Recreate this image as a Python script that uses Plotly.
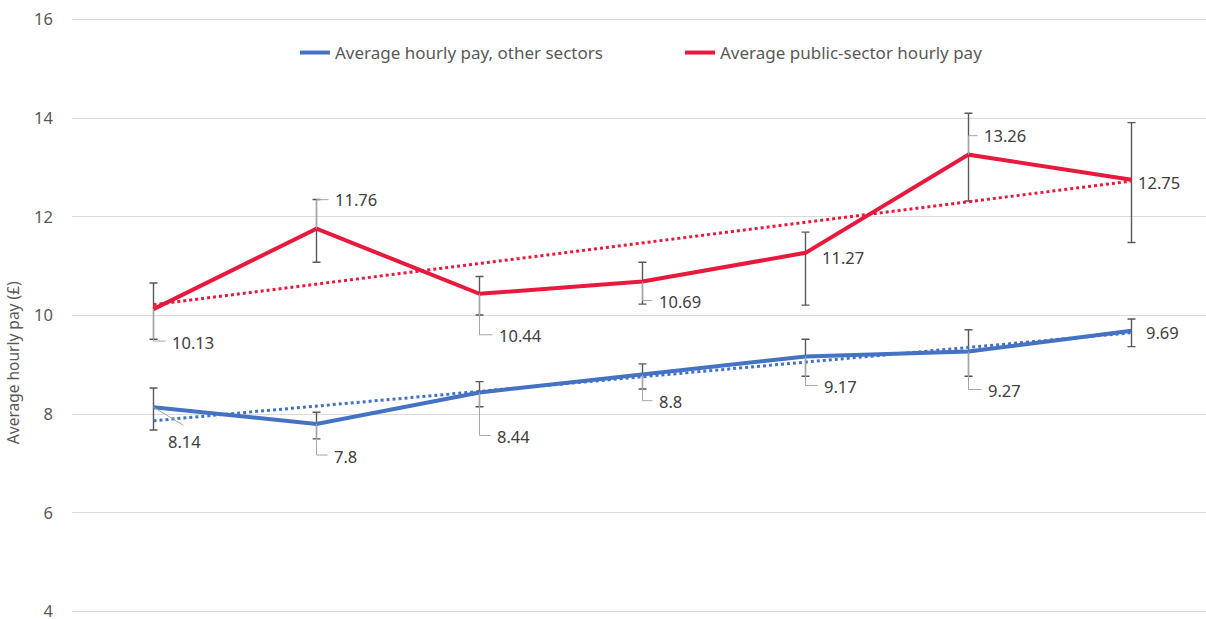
import numpy as np
import plotly.graph_objects as go

# ---- data ----
periods = [0, 1, 2, 3, 4, 5, 6]
other_pay = [8.14, 7.8, 8.44, 8.8, 9.17, 9.27, 9.69]
other_err_plus = [0.39, 0.24, 0.22, 0.22, 0.35, 0.44, 0.24]
other_err_minus = [0.46, 0.30, 0.29, 0.29, 0.40, 0.50, 0.32]
public_pay = [10.13, 11.76, 10.44, 10.69, 11.27, 13.26, 12.75]
public_err_plus = [0.53, 0.59, 0.35, 0.39, 0.42, 0.84, 1.16]
public_err_minus = [0.61, 0.68, 0.43, 0.46, 1.06, 0.94, 1.27]
y_ticks = [4, 6, 8, 10, 12, 14, 16]

# ---- style ----
BLUE = "#4472c4"
RED = "#e8193c"
FONT = "Noto Sans, Open Sans, sans-serif"
LABEL_C = "#404040"
LEADER_C = "#a6a6a6"

# label offsets in pixels (dx right, dy down) and leader styles
other_lbl = [(13, 34, "diag"), (16, 32, "elbow"), (16, 44, "elbow"), (15, 27, "elbow"),
             (17, 30, "elbow"), (18, 39, "elbow"), (13, 2, None)]
public_lbl = [(17, 33, "elbow"), (17, -29, "elbow"), (18, 42, "elbow"), (15, 20, "elbow"),
              (15, 5, None), (14, -19, "elbow"), (5, 3, None)]

fig = go.Figure()

def add_series(name, vals, ep, em, color):
    fig.add_trace(go.Scatter(
        x=periods, y=vals, mode="lines", name=name,
        line=dict(color=color, width=4),
        error_y=dict(type="data", symmetric=False, array=ep, arrayminus=em,
                     color="#595959", thickness=1.4, width=4),
    ))

add_series("Average hourly pay, other sectors", other_pay, other_err_plus, other_err_minus, BLUE)
add_series("Average public-sector hourly pay", public_pay, public_err_plus, public_err_minus, RED)

# linear trendlines (regression of the series)
for vals, color in [(other_pay, BLUE), (public_pay, RED)]:
    slope, icpt = np.polyfit(periods, vals, 1)
    fig.add_trace(go.Scatter(
        x=[periods[0], periods[-1]],
        y=[icpt + slope * periods[0], icpt + slope * periods[-1]],
        mode="lines", showlegend=False, hoverinfo="skip",
        line=dict(color=color, width=3, dash="3px,3px"),
    ))

shapes = []
annotations = []
for vals, lbls in [(other_pay, other_lbl), (public_pay, public_lbl)]:
    for xi, v, (dx, dy, kind) in zip(periods, vals, lbls):
        annotations.append(dict(
            x=xi, y=v, xref="x", yref="y", text=str(v), showarrow=False,
            xanchor="left", yanchor="middle", xshift=dx - 1, yshift=-dy,
            font=dict(family=FONT, size=16.5, color=LABEL_C),
        ))
        if kind == "elbow":
            ey = dy - 1 if dy > 0 else dy
            path = f"M0,0 L0,{-ey} L{dx - 5},{-ey}"
        elif kind == "diag":
            path = f"M0,0 L{dx + 17},{-(dy - 16)}"
        else:
            continue
        shapes.append(dict(
            type="path", path=path, xref="x", yref="y",
            xsizemode="pixel", ysizemode="pixel", xanchor=xi, yanchor=v,
            line=dict(color=LEADER_C, width=1),
        ))

annotations.append(dict(
    text="Average hourly pay (£)", textangle=-90, showarrow=False,
    xref="paper", yref="paper", x=-0.052, y=0.42, xanchor="center", yanchor="middle",
    font=dict(family=FONT, size=15.5, color="#595959"),
))

fig.update_layout(
    width=1206, height=619, autosize=False,
    margin=dict(l=72, r=0, t=18, b=6, autoexpand=False),
    paper_bgcolor="white", plot_bgcolor="white",
    font=dict(family=FONT, color="#595959"),
    shapes=shapes, annotations=annotations,
    legend=dict(
        orientation="h", xref="container", yref="container",
        x=295 / 1206, y=1 - 53 / 619, xanchor="left", yanchor="middle",
        entrywidth=340, entrywidthmode="pixels",
        font=dict(family=FONT, size=17, color="#595959"),
        bgcolor="rgba(0,0,0,0)",
    ),
    xaxis=dict(range=[-0.5, -0.5 + 1134 / 163], showgrid=False, zeroline=False,
               showticklabels=False, showline=False, ticks="", automargin=False),
    yaxis=dict(range=[3.97, 16.03], tickvals=y_ticks, showgrid=True, gridcolor="#d9d9d9",
               gridwidth=1, zeroline=False, showline=False, automargin=False,
               tickfont=dict(family=FONT, size=16.5, color="#595959"),
               ticklabelstandoff=18, ticklabeloverflow="allow"),
    showlegend=True,
)

fig.write_html("out.html", config={"displayModeBar": False},
               post_script="document.body.style.margin='0';")
